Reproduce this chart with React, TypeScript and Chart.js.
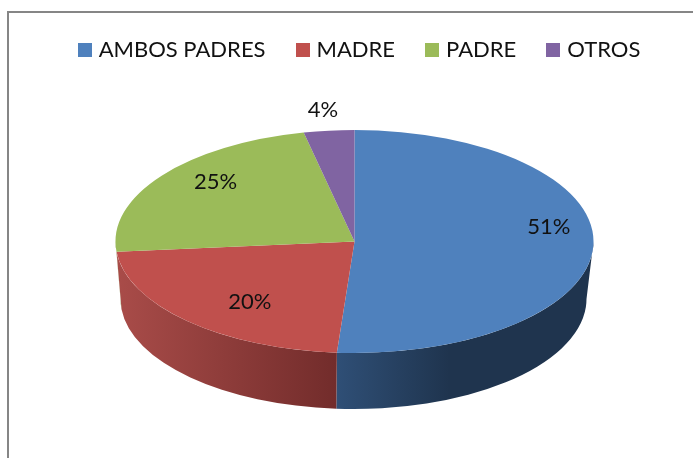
import React, { useEffect, useRef } from "react";
import { Chart, registerables } from "chart.js";

Chart.register(...registerables);

const categories = ["AMBOS PADRES", "MADRE", "PADRE", "OTROS"];
const values = [51, 20, 25, 4];
const colors = ["#4f81bd", "#c0504d", "#9bbb59", "#8064a2"];
const wallStops = [
  [[0, "#2f4f76"], [0.44, "#1f344e"], [1, "#1f344e"]],
  [[0, "#a94c49"], [1, "#722c2b"]],
  [[0, "#7c9647"], [1, "#7c9647"]],
  [[0, "#665082"], [1, "#665082"]],
];
const labelReachX = [0.82, 0.61, 0.74, 1.24];
const labelReachY = [1.0, 0.78, 0.86, 1.19];

const FONT = "Lato, Carlito, Calibri, sans-serif";
const top = { cx: 354.5, cy: 241.5, rx: 239, ry: 111.5 };
const base = { cx: 353.5, cy: 299, rx: 233, ry: 110 };
const PERSPECTIVE = 1.175;

// A tilted circle under perspective: the near side of the disc is stretched.
const project = (a: number) => {
  const psi = a - Math.PI / 2;
  return Math.PI / 2 + 2 * Math.atan(PERSPECTIVE * Math.tan(psi / 2));
};

const legendSwatch = (color: string) => {
  const c = document.createElement("canvas");
  c.width = 14;
  c.height = 14;
  const g = c.getContext("2d")!;
  g.fillStyle = color;
  g.fillRect(0, 0, 14, 14);
  return c;
};

const pie3d = {
  id: "pie3d",
  afterDatasetsUpdate(chart: any) {
    for (const arc of chart.getDatasetMeta(0).data) {
      const s = project(arc.startAngle);
      const e = project(arc.endAngle);
      arc.labelAngle = project((arc.startAngle + arc.endAngle) / 2);
      arc.startAngle = s;
      arc.endAngle = e;
      arc.circumference = e - s;
    }
  },
  beforeDatasetsDraw(chart: any) {
    const ctx = chart.ctx;
    const arcs = chart.getDatasetMeta(0).data;
    arcs.forEach((arc: any, i: number) => {
      const a = Math.max(arc.startAngle, 0);
      const b = Math.min(arc.endAngle, Math.PI);
      if (b <= a) return;
      const x0 = top.cx + top.rx * Math.cos(b);
      const x1 = top.cx + top.rx * Math.cos(a);
      const g = ctx.createLinearGradient(x0, 0, x1, 0);
      wallStops[i].forEach(([o, c]: any) => g.addColorStop(o, c));
      ctx.save();
      ctx.beginPath();
      ctx.ellipse(top.cx, top.cy, top.rx, top.ry, 0, a, b);
      ctx.ellipse(base.cx, base.cy, base.rx, base.ry, 0, b, a, true);
      ctx.closePath();
      ctx.fillStyle = g;
      ctx.fill();
      ctx.restore();
    });
    const c = arcs[0];
    ctx.save();
    ctx.translate(top.cx, top.cy);
    ctx.scale(1, top.ry / top.rx);
    ctx.translate(-c.x, -c.y);
  },
  afterDatasetsDraw(chart: any) {
    const ctx = chart.ctx;
    ctx.restore();
    ctx.save();
    ctx.font = `22px ${FONT}`;
    ctx.fillStyle = "#111111";
    ctx.textAlign = "center";
    ctx.textBaseline = "middle";
    chart.getDatasetMeta(0).data.forEach((arc: any, i: number) => {
      const x = top.cx + labelReachX[i] * top.rx * Math.cos(arc.labelAngle);
      const y = top.cy + labelReachY[i] * top.ry * Math.sin(arc.labelAngle);
      ctx.fillText(`${values[i]}%`, x, y);
    });
    ctx.restore();
  },
};

export default function App() {
  const ref = useRef<HTMLCanvasElement>(null);
  useEffect(() => {
    const chart = new Chart(ref.current!, {
      type: "pie",
      data: {
        labels: categories,
        datasets: [{ data: values, backgroundColor: colors, borderWidth: 0, clip: false } as any],
      },
      options: {
        responsive: false,
        animation: false,
        radius: 239,
        layout: { padding: { left: 29, top: 5, right: 0, bottom: 0 } },
        plugins: {
          tooltip: { enabled: false },
          legend: {
            position: "top",
            labels: {
              usePointStyle: true,
              pointStyleWidth: 6,
              boxHeight: 14,
              padding: 34,
              color: "#111111",
              font: { family: FONT, size: 22 },
              generateLabels(chart: any) {
                const base = (Chart as any).overrides.pie.plugins.legend.labels.generateLabels(chart);
                return base.map((item: any, i: number) => ({ ...item, pointStyle: legendSwatch(colors[i]) }));
              },
            },
          },
        },
      } as any,
      plugins: [pie3d],
    });
    return () => chart.destroy();
  }, []);
  return (
    <div style={{ position: "absolute", left: 0, top: 0, width: 693, height: 458, background: "#fff", overflow: "hidden" }}>
      <div style={{ position: "absolute", left: 7, top: 11, width: 690, height: 450, borderLeft: "2px solid #868686", borderTop: "2px solid #868686" }} />
      <canvas ref={ref} width={693} height={458} style={{ position: "absolute", left: 0, top: 0, display: "block" }} />
    </div>
  );
}
